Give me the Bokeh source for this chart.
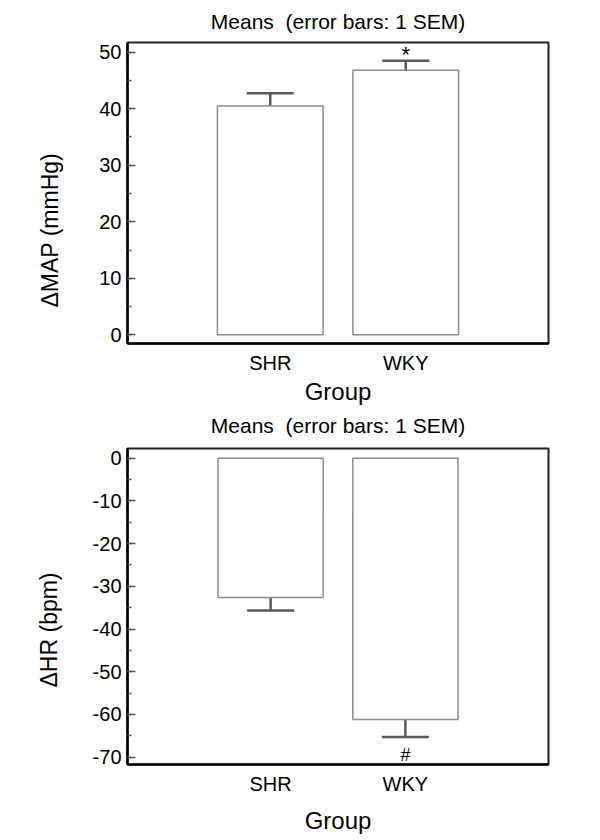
from bokeh.plotting import figure
from bokeh.models import (FactorRange, Range1d, SingleIntervalTicker, ColumnDataSource,
                          Whisker, TeeHead, Title, PrintfTickFormatter)
from bokeh.layouts import column
from bokeh.embed import file_html
from bokeh.resources import INLINE

# ---- data ----
groups = ["SHR", "WKY"]
map_mean = [40.5, 46.8]
map_sem = [2.25, 1.7]
map_sig = ["", "*"]
hr_mean = [-32.6, -61.2]
hr_sem = [3.05, 4.1]
hr_sig = ["", "#"]
title_text = "Means\u00a0 (error bars: 1 SEM)"
x_label = "Group"
map_label = "ΔMAP (mmHg)"
hr_label = "ΔHR (bpm)"

FONT = "Liberation Sans"


def make_title(text, standoff):
    return Title(text=text, align="center", vertical_align="top",
                 text_font=FONT, text_font_size="21px", text_font_style="normal",
                 text_color="black", standoff=standoff)


def make_panel(means, sems, sig, ylabel, yr, width, height, mb, pad, sig_below,
               ylab_offset, ylab_standoff, xlab_standoff):
    upper = [m + s for m, s in zip(means, sems)]
    lower = [m - s for m, s in zip(means, sems)]
    src = ColumnDataSource(dict(g=groups, m=means, up=upper, lo=lower, sig=sig))
    p = figure(x_range=FactorRange(factors=groups, range_padding=pad,
                                   range_padding_units="absolute"),
               y_range=Range1d(*yr), width=width, height=height,
               output_backend="svg", toolbar_location=None,
               min_border_left=mb[0], min_border_right=mb[1],
               min_border_top=mb[2], min_border_bottom=mb[3])
    p.grid.visible = False
    p.outline_line_color = "#222222"
    p.outline_line_width = 2
    p.background_fill_color = "white"
    p.border_fill_color = "white"

    p.vbar(x="g", top="m", bottom=0, width=0.78, source=src,
           fill_color="white", line_color="#8c8c8c", line_width=1.5)
    w = Whisker(base="g", upper="up", lower="lo", source=src, dimension="height",
                line_color="#595959", line_width=2.5,
                upper_head=TeeHead(size=47, line_color="#595959", line_width=2.5),
                lower_head=TeeHead(size=47, line_color="#595959", line_width=2.5))
    p.add_layout(w)
    if sig_below:
        p.text(x="g", y="lo", text="sig", source=src, text_align="center",
               text_baseline="top", y_offset=8, text_font_size="18px",
               text_color="black")
    else:
        p.text(x="g", y="up", text="sig", source=src, text_align="center",
               text_baseline="alphabetic", y_offset=-6, text_font_size="22px",
               text_color="black")

    ya = p.yaxis[0]
    ya.ticker = SingleIntervalTicker(interval=10, num_minor_ticks=2)
    ya.formatter = PrintfTickFormatter(format="%d")
    ya.major_tick_in = 8
    ya.major_tick_out = 0
    ya.minor_tick_in = 4
    ya.minor_tick_out = 0
    ya.major_tick_line_color = "#555555"
    ya.minor_tick_line_color = "#555555"
    ya.major_tick_line_width = 1.5
    ya.minor_tick_line_width = 1.5
    ya.axis_line_width = 2.5
    ya.axis_line_color = "black"
    ya.major_label_text_font = FONT
    ya.major_label_text_font_size = "20px"
    ya.major_label_text_color = "black"
    ya.major_label_standoff = 6

    xa = p.xaxis[0]
    xa.major_tick_line_color = None
    xa.minor_tick_line_color = None
    xa.axis_line_width = 2.5
    xa.axis_line_color = "black"
    xa.major_label_text_font = FONT
    xa.major_label_text_font_size = "20px"
    xa.major_label_text_color = "black"
    xa.major_label_standoff = 2
    xa.axis_label = x_label
    xa.axis_label_text_font = FONT
    xa.axis_label_text_font_size = "24px"
    xa.axis_label_text_font_style = "normal"
    xa.axis_label_text_color = "black"
    xa.axis_label_standoff = xlab_standoff

    yt = Title(text=ylabel, align="left", vertical_align="bottom",
               offset=ylab_offset, standoff=ylab_standoff,
               text_font=FONT, text_font_size="23px", text_font_style="normal",
               text_color="black")
    p.add_layout(yt, "left")
    return p


p1 = make_panel(map_mean, map_sem, map_sig, map_label, (-1.54, 51.72), 590, 445,
                (127, 42, 42, 102), 0.5535, False, 36, 68, 1)
p1.add_layout(make_title(title_text, 15), "above")
p1.add_layout(make_title(title_text, 13), "below")

p2 = make_panel(hr_mean, hr_sem, hr_sig, hr_label, (-71.71, 2.27), 590, 393,
                (127, 36, 3, 74), 0.562, True, 77, 55, 9)

layout = column(p1, p2, spacing=0)
open("out.html", "w").write(file_html(layout, INLINE))
